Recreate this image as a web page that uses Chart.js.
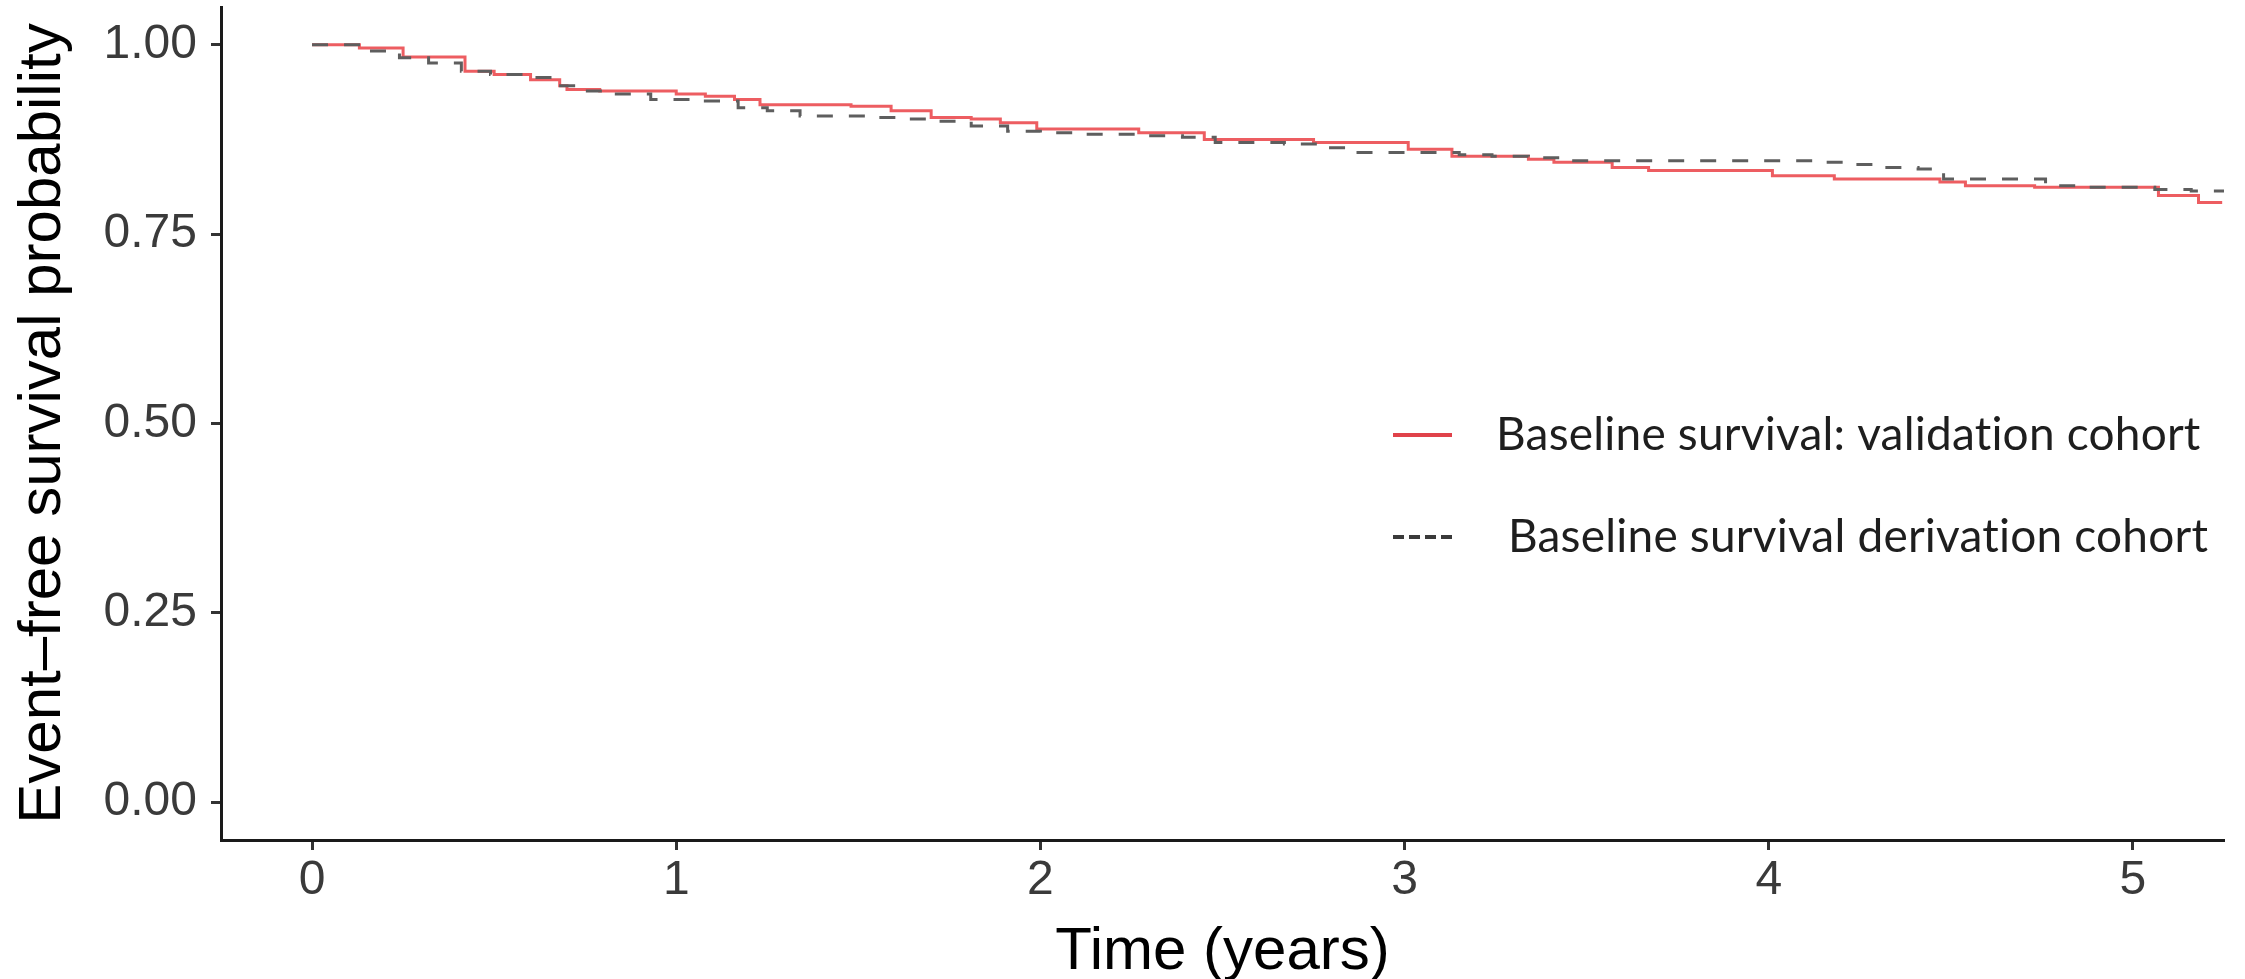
<!DOCTYPE html>
<html>
<head>
<meta charset="utf-8">
<script src="https://cdn.jsdelivr.net/npm/chart.js@4.4.1/dist/chart.umd.min.js"></script>
<style>
    html, body { margin: 0; padding: 0; background: #ffffff; }
    #wrap { width: 2245px; height: 979px; position: relative; }
</style>
</head>
<body>
<div id="wrap"><canvas id="survivalChart"></canvas></div>
<script>
// Kaplan-Meier style step curves (time in years, survival prob.)
const validationTimes = [0, 0.13, 0.25, 0.42, 0.50, 0.60, 0.68, 0.70, 0.79, 1.00, 1.08, 1.16, 1.23, 1.48, 1.59, 1.70, 1.81, 1.89, 1.99, 2.27, 2.45, 2.75, 3.01, 3.13, 3.34, 3.41, 3.57, 3.67, 4.01, 4.18, 4.47, 4.54, 4.73, 5.07, 5.18, 5.245];
const validationSurvival = [1.000, 0.996, 0.984, 0.965, 0.961, 0.954, 0.946, 0.941, 0.939, 0.935, 0.932, 0.928, 0.921, 0.919, 0.913, 0.904, 0.902, 0.897, 0.889, 0.884, 0.875, 0.871, 0.862, 0.853, 0.849, 0.845, 0.838, 0.834, 0.827, 0.823, 0.819, 0.814, 0.812, 0.801, 0.792, 0.792];

const derivationTimes = [0, 0.15, 0.24, 0.32, 0.41, 0.49, 0.58, 0.66, 0.75, 0.83, 0.93, 1.08, 1.17, 1.25, 1.34, 1.54, 1.63, 1.72, 1.81, 1.91, 2.00, 2.09, 2.29, 2.39, 2.48, 2.67, 2.76, 2.85, 3.15, 3.24, 3.34, 3.43, 4.12, 4.22, 4.31, 4.41, 4.48, 4.76, 4.86, 5.06, 5.16, 5.25];
const derivationSurvival = [1.000, 0.992, 0.983, 0.976, 0.965, 0.961, 0.957, 0.946, 0.939, 0.935, 0.928, 0.926, 0.917, 0.913, 0.906, 0.904, 0.902, 0.899, 0.893, 0.886, 0.884, 0.882, 0.880, 0.878, 0.871, 0.869, 0.864, 0.858, 0.855, 0.853, 0.851, 0.847, 0.845, 0.842, 0.838, 0.836, 0.823, 0.814, 0.812, 0.809, 0.807, 0.807];

const xTicks = [0, 1, 2, 3, 4, 5];
const yTicks = [0, 0.25, 0.5, 0.75, 1];

const seriesLabels = ['Baseline survival: validation cohort', ' Baseline survival derivation cohort'];

const toPoints = (xs, ys) => xs.map((x, i) => ({ x: x, y: ys[i] }));

// legend sits inside the plot on the right, like the pasted-in legend of the figure
const insideLegend = {
    id: 'insideLegend',
    afterDraw(chart) {
        const ctx = chart.ctx;
        const rowY = [435, 537];
        const lineX0 = 1393, lineX1 = 1452, textX = 1496;
        chart.data.datasets.forEach((ds, i) => {
            const y = rowY[i];
            ctx.save();
            ctx.beginPath();
            ctx.strokeStyle = i === 0 ? '#e0424a' : '#3a3a3a';
            ctx.lineWidth = 4;
            ctx.setLineDash(i === 0 ? [] : [11, 5]);
            ctx.moveTo(lineX0, y);
            ctx.lineTo(lineX1, y);
            ctx.stroke();
            ctx.setLineDash([]);
            ctx.fillStyle = '#1e1e1e';
            ctx.font = '46px Lato, "Open Sans", sans-serif';
            ctx.letterSpacing = '0.2px';
            ctx.textBaseline = 'middle';
            ctx.textAlign = 'left';
            ctx.fillText(ds.label, textX, y);
            ctx.restore();
        });
    }
};

const ctx = document.getElementById('survivalChart').getContext('2d');
const chart = new Chart(ctx, {
    type: 'line',
    data: {
        datasets: [
            {
                label: seriesLabels[0],
                data: toPoints(validationTimes, validationSurvival),
                borderColor: 'rgba(235, 75, 80, 0.9)',
                borderWidth: 3,
                stepped: true,
                pointRadius: 0,
                fill: false,
                order: 1
            },
            {
                label: seriesLabels[1],
                data: toPoints(derivationTimes, derivationSurvival),
                borderColor: '#5e5e5e',
                borderWidth: 3,
                borderDash: [16, 16],
                stepped: true,
                pointRadius: 0,
                fill: false,
                order: 0
            }
        ]
    },
    options: {
        responsive: true,
        maintainAspectRatio: false,
        animation: false,
        layout: {
            autoPadding: false,
            padding: { top: 7, right: 21, bottom: 0, left: 0 }
        },
        plugins: {
            legend: { display: false },
            tooltip: { enabled: false }
        },
        scales: {
            x: {
                type: 'linear',
                min: -0.25,
                max: 5.25,
                afterBuildTicks: (scale) => { scale.ticks = xTicks.map(v => ({ value: v })); },
                afterFit: (scale) => {
                    scale.height = 139;
                    scale.paddingLeft = 0;
                    scale.paddingRight = 0;
                },
                grid: {
                    display: true,
                    drawOnChartArea: false,
                    drawTicks: true,
                    tickLength: 10,
                    tickWidth: 3,
                    tickColor: '#333333'
                },
                border: { display: true, color: '#1a1a1a', width: 3 },
                ticks: {
                    padding: 2,
                    color: '#3a3a3a',
                    font: { family: '"Liberation Sans", Arial, Helvetica, sans-serif', size: 48 },
                    callback: (v) => String(v)
                },
                title: {
                    display: true,
                    text: 'Time (years)',
                    color: '#000000',
                    font: { family: '"Liberation Sans", Arial, Helvetica, sans-serif', size: 60, lineHeight: 0.9 },
                    padding: { top: 0, bottom: 0 }
                }
            },
            y: {
                min: -0.05,
                max: 1.05,
                afterBuildTicks: (scale) => { scale.ticks = yTicks.map(v => ({ value: v })); },
                afterFit: (scale) => {
                    scale.width = 221;
                    scale.paddingTop = 0;
                    scale.paddingBottom = 0;
                },
                grid: {
                    display: true,
                    drawOnChartArea: false,
                    drawTicks: true,
                    tickLength: 10,
                    tickWidth: 3,
                    tickColor: '#333333'
                },
                border: { display: true, color: '#1a1a1a', width: 3 },
                ticks: {
                    padding: 14,
                    color: '#3a3a3a',
                    font: { family: '"Liberation Sans", Arial, Helvetica, sans-serif', size: 48 },
                    callback: (v) => Number(v).toFixed(2)
                },
                title: {
                    display: true,
                    text: 'Event\u2013free survival probability',
                    color: '#000000',
                    font: { family: '"Liberation Sans", Arial, Helvetica, sans-serif', size: 60, lineHeight: 1.2 },
                    padding: { top: 7, bottom: 0 }
                }
            }
        }
    },
    plugins: [insideLegend]
});
</script>
</body>
</html>
